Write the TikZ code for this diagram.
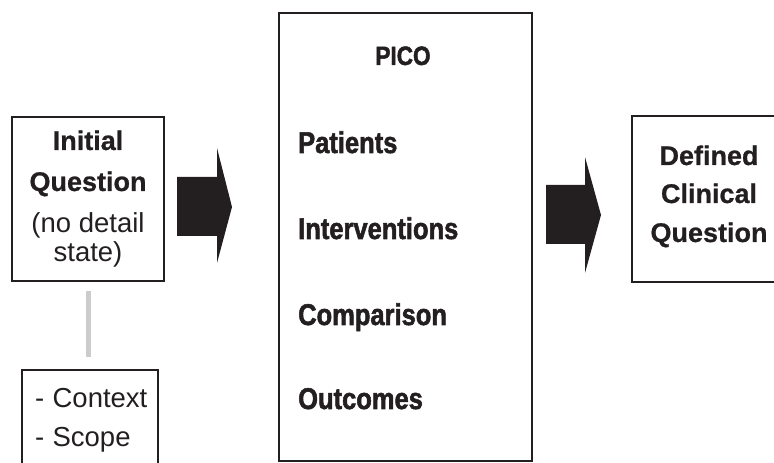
\documentclass[tikz,border=0pt]{standalone}
\usepackage{fontspec}
\setmainfont{Liberation Sans}[BoldFeatures={FakeBold=0.8}]
\newfontfamily\condfont[FakeStretch=0.85,FakeBold=1.8]{Liberation Sans}
\definecolor{ink}{HTML}{231F20}
\definecolor{linkgray}{HTML}{CCCCCC}
\begin{document}
\begin{tikzpicture}[x=1pt,y=1pt,
  box/.style={draw=ink, line width=2pt, inner sep=0pt},
  txt/.style={inner sep=0pt, anchor=base, text=ink, font=\fontsize{27.5}{27.5}\selectfont},
  btxt/.style={txt, font=\fontsize{27}{27}\selectfont\bfseries},
  ctxt/.style={inner sep=0pt, anchor=base west, text=ink, font=\fontsize{30}{30}\selectfont\condfont\bfseries},
  ltxt/.style={inner sep=0pt, anchor=base west, text=ink, font=\fontsize{27.5}{27.5}\selectfont},
  link/.style={draw=linkgray, line width=5pt},
  blockarrow/.style={fill=ink}
]
\clip (0,0) rectangle (774,463);
% boxes
\node[box, minimum width=152pt, minimum height=164pt] (init) at (88,264) {};
\node[box, minimum width=136pt, minimum height=110pt] (ctx) at (90,38) {};
\node[box, minimum width=253pt, minimum height=448pt] (pico) at (405.5,226) {};
\node[box, minimum width=168pt, minimum height=166pt] (defined) at (716,264) {};
% link
\draw[link, shorten <=9pt, shorten >=12pt] (init.south) -- (init.south |- ctx.north);
% block arrows
\fill[blockarrow] (177,286) -- (217,286) -- (217,315) -- (232,256) -- (217,200) -- (217,227) -- (177,227) -- cycle;
\fill[blockarrow] (546,278) -- (585,278) -- (585,306) -- (601,248) -- (585,190) -- (585,219) -- (546,219) -- cycle;
% initial question text
\node[btxt] (t1) at (88,313) {Initial};
\node[btxt] (t2) at (88,272) {Question};
\node[txt] (t3) at (88,230) {(no detail};
\node[txt] (t4) at (88,201) {state)};
% context
\node[ltxt] (c1) at (35,55) {-\hspace{0.3em}Context};
\node[ltxt] (c2) at (35,16) {-\hspace{0.3em}Scope};
% PICO
\node[ctxt, anchor=base, font=\fontsize{26.5}{26.5}\selectfont\condfont\bfseries] (p0) at (403,398) {PICO};
\node[ctxt] (p1) at (298,310) {Patients};
\node[ctxt] (p2) at (298,224) {Interventions};
\node[ctxt] (p3) at (298,138) {Comparison};
\node[ctxt] (p4) at (298,54) {Outcomes};
% defined
\node[btxt] (d1) at (709,298) {Defined};
\node[btxt] (d2) at (709,260) {Clinical};
\node[btxt] (d3) at (709,221) {Question};
\end{tikzpicture}
\end{document}
